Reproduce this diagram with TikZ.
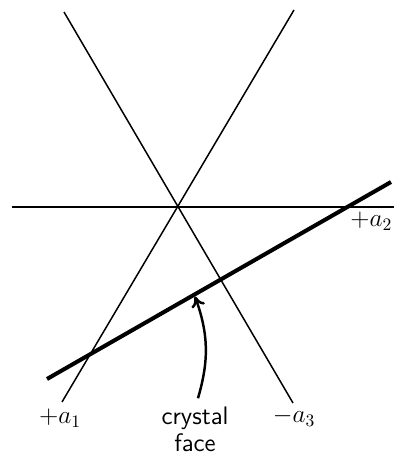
\documentclass[tikz,border=0pt]{standalone}
\usetikzlibrary{arrows.meta}
\begin{document}
\begin{tikzpicture}[line width=0.85pt]
  \useasboundingbox (-3.560,-4.980) rectangle (4.320,4.140);
  \tikzset{lbl/.style={font=\Large, inner sep=1.5pt}}
  \coordinate (O) at (0.000,0.000);
  \draw (-3.320,0.000) -- (4.320,0.000);
  \draw (-2.320,-3.900) -- (2.320,3.940);
  \draw (-2.280,3.900) -- (2.300,-3.920);
  \draw[line width=2.3pt] (-2.620,-3.440) -- (4.260,0.500);
  \coordinate (tip) at (0.340,-1.790);
  \node[lbl, anchor=east, inner sep=0.5pt] (a2) at (4.320,-0.290) {$+a_2$};
  \node[lbl] (a1) at (-2.360,-4.230) {$+a_1$};
  \node[lbl] (a3) at (2.320,-4.210) {$-a_3$};
  \node[lbl, align=center, font=\fontsize{14.4}{15.5}\selectfont\sffamily, inner sep=0pt] (face) at (0.340,-4.440) {crystal\\face};
  \draw[line width=1.4pt, -{To[length=6pt,width=8pt]}] ([xshift=0.06cm,yshift=0.15cm]face.north) to[bend right=18] (tip);
\end{tikzpicture}
\end{document}
